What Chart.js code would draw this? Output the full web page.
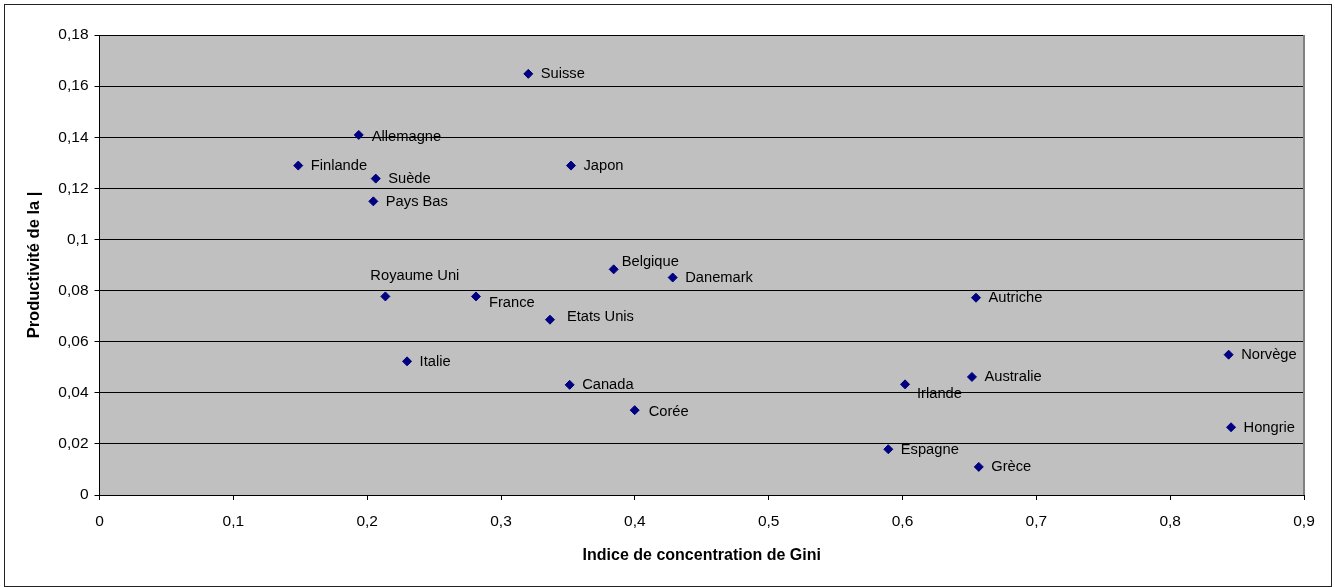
<!DOCTYPE html>
<html>
<head>
<meta charset="utf-8">
<script src="https://cdn.jsdelivr.net/npm/chart.js@4.4.1/dist/chart.umd.min.js"></script>
<style>
body { margin: 0; background: #fff; }
#wrap { width: 1335px; height: 587px; position: relative; }
</style>
</head>
<body>
<div id="wrap"><canvas id="gini" width="1335" height="587"></canvas></div>
<script>
// pays et valeurs
const pays = ["Suisse","Allemagne","Finlande","Suède","Pays Bas","Japon","Belgique","Danemark",
  "Royaume Uni","France","Etats Unis","Italie","Canada","Corée","Autriche","Irlande",
  "Australie","Norvège","Hongrie","Espagne","Grèce"]
const gini = [0.3204,0.1937,0.1485,0.2064,0.2046,0.3523,0.3842,0.4283,
  0.2136,0.2813,0.3366,0.2298,0.3513,0.3999,0.6549,0.6019,
  0.6519,0.8437,0.8455,0.5894,0.6570]
const productivite = [0.1648,0.1409,0.1289,0.1238,0.1149,0.1289,0.0883,0.0851,
  0.0777,0.0777,0.0686,0.0523,0.0431,0.0332,0.0772,0.0433,
  0.0462,0.0549,0.0265,0.0179,0.0110]
const xTitre = "Indice de concentration de Gini"
const yTitre = "Productivité de la |"

// décalage des étiquettes par rapport au point (par défaut à droite)
const decalage = {
  "Royaume Uni": [-15, -21],
  "France": [13, 6],
  "Etats Unis": [17, -3],
  "Belgique": [8, -8],
  "Irlande": [12, 9],
  "Allemagne": [13, 1.5],
  "Corée": [14, 1]
}

const virgule = v => String(Math.round(v * 100) / 100).replace(".", ",")
const police = "'Liberation Sans', Arial, sans-serif"

const fond = {
  id: "fond",
  beforeDraw(chart) {
    const c = chart.ctx, a = chart.chartArea
    c.save()
    c.fillStyle = "#fff"
    c.fillRect(0, 0, chart.width, chart.height)
    c.fillStyle = "#c0c0c0"
    c.fillRect(a.left, a.top, a.right - a.left, a.bottom - a.top)
    c.strokeStyle = "#222"
    c.lineWidth = 1
    c.strokeRect(4.5, 4.5, 1327, 582)
    c.restore()
  },
  beforeDatasetsDraw(chart) {
    const c = chart.ctx, a = chart.chartArea
    c.save()
    c.strokeStyle = "#808080"
    c.lineWidth = 2
    c.beginPath()
    c.moveTo(a.right, a.top)
    c.lineTo(a.right, a.bottom)
    c.stroke()
    c.restore()
  }
}

const etiquettes = {
  id: "etiquettes",
  afterDatasetsDraw(chart) {
    const c = chart.ctx
    const pts = chart.getDatasetMeta(0).data
    c.save()
    c.font = "14.7px " + police
    c.fillStyle = "#000"
    c.textAlign = "left"
    c.textBaseline = "middle"
    pts.forEach((p, i) => {
      const d = decalage[pays[i]] || [12.5, 0]
      c.fillText(pays[i], p.x + d[0], p.y + d[1] + 0.5)
    })
    c.restore()
  }
}

new Chart(document.getElementById("gini"), {
  type: "scatter",
  data: {
    datasets: [{
      label: "Pays",
      data: gini.map((g, i) => ({x: g, y: productivite[i]})),
      pointStyle: "rectRot",
      pointRadius: 4.5,
      pointHoverRadius: 4.5,
      backgroundColor: "#000080",
      borderColor: "#000080",
      borderWidth: 1
    }]
  },
  options: {
    responsive: false,
    animation: false,
    events: [],
    layout: { padding: { left: 0, top: 35, right: 31, bottom: 0 } },
    plugins: { legend: { display: false }, tooltip: { enabled: false } },
    scales: {
      x: {
        type: "linear",
        min: 0, max: 0.9,
        afterFit: s => { s.height = 92 },
        border: { color: "#000", width: 1 },
        grid: { drawOnChartArea: false, drawTicks: true, tickLength: 5, color: "#000" },
        ticks: { stepSize: 0.1, color: "#000", padding: 12, maxRotation: 0,
          font: { family: police, size: 15.5 }, callback: virgule },
        title: { display: true, text: xTitre, color: "#000",
          font: { family: police, size: 16, weight: "bold" }, padding: { top: 0, bottom: 22 } }
      },
      y: {
        type: "linear",
        min: 0, max: 0.18,
        afterFit: s => { s.width = 99.5 },
        border: { color: "#000", width: 1 },
        grid: { drawOnChartArea: true, drawTicks: true, tickLength: 5, color: "#000" },
        ticks: { stepSize: 0.02, color: "#000", padding: 6,
          font: { family: police, size: 15.5 }, callback: virgule },
        title: { display: true, text: yTitre, color: "#000",
          font: { family: police, size: 16.5, weight: "bold" }, padding: { top: 25, bottom: 0 } }
      }
    }
  },
  plugins: [fond, etiquettes]
})
</script>
</body>
</html>
